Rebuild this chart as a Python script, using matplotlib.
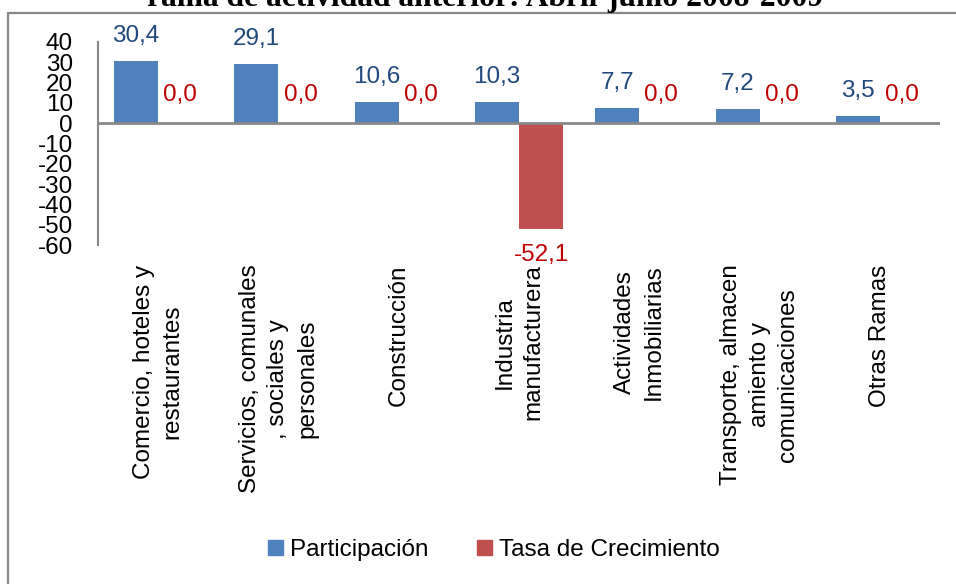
import numpy as np
import matplotlib
matplotlib.use("Agg")
import matplotlib.pyplot as plt
from matplotlib.patches import Patch, Rectangle

categorias = [
    "Comercio, hoteles y\nrestaurantes",
    "Servicios, comunales\n, sociales y\npersonales",
    "Construcción",
    "Industria\nmanufacturera",
    "Actividades\nInmobiliarias",
    "Transporte, almacen\namiento y\ncomunicaciones",
    "Otras Ramas",
]
participacion = [30.4, 29.1, 10.6, 10.3, 7.7, 7.2, 3.5]
tasa_crecimiento = [0.0, 0.0, 0.0, -52.1, 0.0, 0.0, 0.0]
yticks = list(range(-60, 50, 10))

titulo = "rama de actividad anterior: Abril-junio 2008-2009"

plt.rcParams["font.family"] = ["Liberation Sans", "DejaVu Sans"]
FS = 17.5

fig = plt.figure(figsize=(9.56, 5.84), dpi=100)
W, H = 956, 584

# outer chart frame (gray border, top and left visible)
fig.patches.append(Rectangle((8 / W, -0.1), 1.2, 1 - 13 / H + 0.1,
                             transform=fig.transFigure, fill=False,
                             edgecolor="#888888", linewidth=1.6))

fig.text(485 / W, 1 - 6 / H, titulo, ha="center", va="baseline",
         fontsize=22.7, fontweight="bold", family="Liberation Serif")

ax = fig.add_axes([98 / W, 1 - 245 / H, (940 - 98) / W, (245 - 42) / H])

x = np.arange(len(categorias))
w = 0.366
b1 = ax.bar(x - w / 2, participacion, w, color="#4F81BD", label="Participación")
b2 = ax.bar(x + w / 2, tasa_crecimiento, w, color="#C0504D",
            label="Tasa de Crecimiento")

def fmt(v):
    return f"{v:.1f}".replace(".", ",")

for rect, v in zip(b1, participacion):
    off = 18 if v >= 0 else -19
    ax.annotate(fmt(v), (rect.get_x() + rect.get_width() / 2, v),
                xytext=(0, off), textcoords="offset points",
                ha="center", va="center", fontsize=FS, color="#1F497D")
for rect, v in zip(b2, tasa_crecimiento):
    off = 20 if v >= 0 else -19
    ax.annotate(fmt(v), (rect.get_x() + rect.get_width() / 2, v),
                xytext=(0, off), textcoords="offset points",
                ha="center", va="center", fontsize=FS, color="#C00000")

ax.set_xlim(-0.5, len(categorias) - 0.5)
ax.set_ylim(-60, 40)
ax.set_yticks(yticks)
ax.set_yticklabels([str(t) for t in yticks])
ax.set_xticks(x)
ax.set_xticklabels(categorias, rotation=90, ha="center", va="top",
                   multialignment="center")
for lbl in ax.get_xticklabels():
    lbl.set_linespacing(1.4)
ax.tick_params(axis="y", length=0, pad=18, labelsize=FS)
ax.tick_params(axis="x", length=0, pad=14, labelsize=FS)

for s in ["top", "right", "bottom"]:
    ax.spines[s].set_visible(False)
ax.spines["left"].set_color("#888888")
ax.spines["left"].set_linewidth(1.5)
ax.axhline(0, color="#888888", linewidth=2, zorder=3)

handles = [Patch(color="#4F81BD", label="Participación"),
           Patch(color="#C0504D", label="Tasa de Crecimiento")]
fig.legend(handles=handles, loc="center", bbox_to_anchor=(494 / W, 1 - 550 / H),
           ncol=2, frameon=False, fontsize=FS, handlelength=0.6,
           handleheight=0.6, handletextpad=0.3, columnspacing=2.0)

fig.savefig("out.png", dpi=100)
